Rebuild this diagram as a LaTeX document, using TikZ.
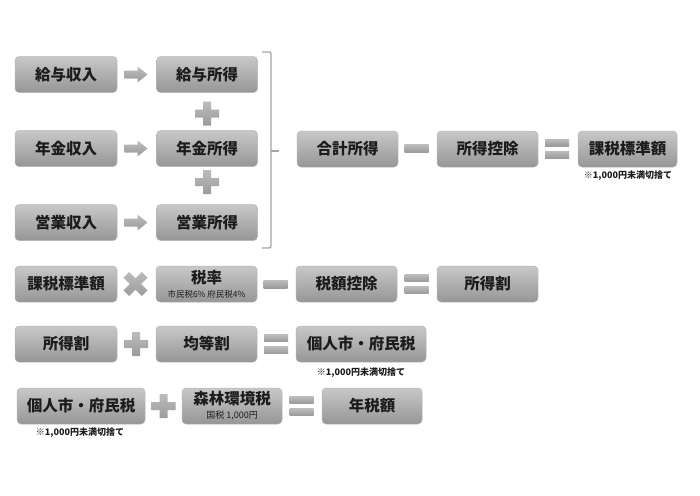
\documentclass[tikz,border=0pt]{standalone}
\usepackage{fontspec}
\setmainfont{Noto Sans CJK JP}
\definecolor{boxtop}{RGB}{200,200,200}
\definecolor{boxbot}{RGB}{150,150,150}
\definecolor{boxline}{RGB}{182,182,182}
\definecolor{txt}{RGB}{28,28,28}
\definecolor{optop}{RGB}{188,188,188}
\definecolor{opbot}{RGB}{155,155,155}
\definecolor{bracecol}{RGB}{165,165,165}
\tikzset{
  box/.style={rounded corners=4pt, draw=boxline, line width=0.5pt,
    top color=boxtop, bottom color=boxbot, inner sep=0pt, text=txt,
    minimum width=101pt, minimum height=36pt, align=center,
    font=\fontsize{15.5}{17}\selectfont\bfseries},
  note/.style={inner sep=0pt, text=txt, font=\fontsize{9}{10}\selectfont\bfseries},
  opfill/.style={top color=optop, bottom color=opbot, draw=none},
  plusop/.pic={\path[opfill] (-12,-4)--(-4,-4)--(-4,-12)--(4,-12)--(4,-4)--(12,-4)--(12,4)--(4,4)--(4,12)--(-4,12)--(-4,4)--(-12,4)--cycle;},
  timesop/.pic={\path[opfill,rotate=45] (-13,-4)--(-4,-4)--(-4,-13)--(4,-13)--(4,-4)--(13,-4)--(13,4)--(4,4)--(4,13)--(-4,13)--(-4,4)--(-13,4)--cycle;},
  minusop/.pic={\path[opfill] (-12,-4) rectangle (12,4);},
  equalsop/.pic={\path[opfill] (-12,-9.5) rectangle (12,-2.5); \path[opfill] (-12,2.5) rectangle (12,9.5);},
  arrowop/.pic={\path[opfill] (-11.5,-4)--(1.5,-4)--(1.5,-8)--(11.5,0)--(1.5,8)--(1.5,4)--(-11.5,4)--cycle;}
}
\begin{document}
\begin{tikzpicture}[x=1pt,y=-1pt]
\useasboundingbox[fill=white] (0,0) rectangle (700,495);

% Row block 1
\node[box, minimum width=102pt] (in1) at (66,74.5) {給与収入};
\node[box] (out1) at (207,74.5) {給与所得};
\node[box, minimum width=102pt] (in2) at (66,148.5) {年金収入};
\node[box] (out2) at (207,148.5) {年金所得};
\node[box, minimum width=102pt] (in3) at (66,222.5) {営業収入};
\node[box] (out3) at (207,222.5) {営業所得};
\pic at (136,74.5) {arrowop};
\pic at (136,148.5) {arrowop};
\pic at (136,222.5) {arrowop};
\pic at (207,113.5) {plusop};
\pic at (207,182) {plusop};

% brace
\draw[bracecol, line width=1.4pt, rounded corners=2pt]
  (262,52) -- (271,52) -- (271,248) -- (262,248);
\draw[bracecol, line width=1.4pt] (271,151) -- (279,151);

\node[box] (total) at (347.5,149) {合計所得};
\pic at (416.5,148.5) {minusop};
\node[box] (ded) at (487.5,149) {所得控除};
\pic at (557,148.5) {equalsop};
\node[box, minimum width=99pt] (base) at (627.5,149) {課税標準額};
\node[note] (note1) at (628,176) {※1,000円未満切捨て};

% Row 2
\node[box, minimum width=102pt] (base2) at (66,284) {課税標準額};
\pic at (135.5,284) {timesop};
\node[box] (rate) at (206.5,284) {税率\\[-3pt]{\fontsize{8.5}{9}\selectfont\mdseries 市民税6\% 府民税4\%}};
\pic at (275.5,284) {minusop};
\node[box] (taxded) at (346.5,284) {税額控除};
\pic at (416.5,284) {equalsop};
\node[box] (inc) at (487.5,284) {所得割};

% Row 3
\node[box, minimum width=102pt] (inc2) at (66,344) {所得割};
\pic at (136,344) {plusop};
\node[box] (equal) at (206.5,344) {均等割};
\pic at (276,344) {equalsop};
\node[box, minimum width=130pt] (city) at (361,344) {個人市・府民税};
\node[note] (note2) at (361,373) {※1,000円未満切捨て};

% Row 4
\node[box, minimum width=128pt] (city2) at (81,406) {個人市・府民税};
\node[note] (note3) at (80,433) {※1,000円未満切捨て};
\pic at (163.5,406) {plusop};
\node[box, minimum width=100pt] (forest) at (232,406) {森林環境税\\[-3pt]{\fontsize{9}{10}\selectfont\mdseries 国税 1,000円}};
\pic at (301.5,406) {equalsop};
\node[box, minimum width=100pt] (annual) at (372,406) {年税額};
\end{tikzpicture}
\end{document}
